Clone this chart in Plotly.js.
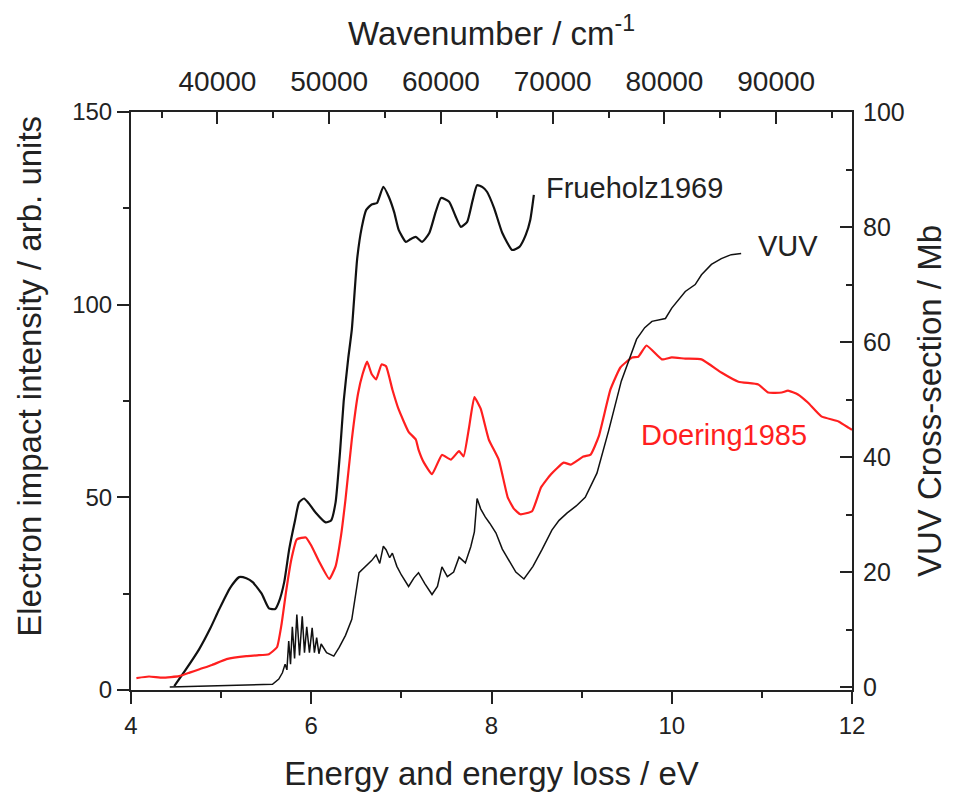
<!DOCTYPE html>
<html>
<head>
<meta charset="utf-8">
<script src="https://cdn.plot.ly/plotly-3.0.1.min.js"></script>
<style>html,body{margin:0;padding:0;background:#fff;}#chart{width:956px;height:794px;}</style>
</head>
<body>
<div id="chart"></div>
<script>
// Frueholz1969 electron impact (left axis)
const frueholzE = [4.48,4.6,4.757,4.88,4.98,5.1,5.2,5.28,5.35,5.45,5.53,5.6,5.64,5.7,5.755,5.82,5.865,5.92,5.97,6.05,6.16,6.22,6.27,6.32,6.36,6.41,6.45,6.51,6.56,6.61,6.67,6.73,6.80,6.86,6.92,6.97,7.05,7.10,7.16,7.23,7.31,7.38,7.44,7.53,7.60,7.66,7.73,7.79,7.84,7.90,7.95,8.03,8.12,8.23,8.31,8.38,8.43,8.47];
const frueholzI = [1,5,10.6,16,21,26.5,29.3,29,28,25,21.2,21,22.8,28,36.5,44,48.7,49.7,48.5,46,43.5,44,48.7,62,75,86,93.5,112,120,124.6,126,126.4,130.6,128,124,119.4,116.3,117,117.6,116.3,118.6,124,127.7,126.7,123,120.2,121.5,127,131,130.5,129.3,125,118.6,114.2,115,118.1,122,128.5];

// Doering1985 electron impact (left axis)
const doeringE = [4.06,4.2,4.35,4.535,4.65,4.76,4.9,5.06,5.28,5.4,5.53,5.62,5.67,5.72,5.78,5.84,5.94,6.0,6.09,6.2,6.27,6.33,6.38,6.45,6.52,6.57,6.62,6.67,6.72,6.78,6.83,6.9,6.97,7.08,7.16,7.19,7.25,7.34,7.45,7.55,7.64,7.69,7.75,7.81,7.88,7.97,8.08,8.18,8.25,8.32,8.45,8.55,8.66,8.80,8.88,9.02,9.10,9.19,9.32,9.43,9.56,9.63,9.72,9.89,10.0,10.15,10.33,10.55,10.74,10.96,11.07,11.22,11.29,11.40,11.51,11.66,11.85,11.96,12.0];
const doeringI = [3.1,3.5,3.2,3.6,4.5,5.4,6.5,8.0,8.8,9.0,9.3,11.1,17,25.4,34,39.1,39.6,37.5,33.2,28.8,32.1,40,49.5,65,77,82,85.2,82,80.6,84.5,84,78,72.8,67,65,62.4,59,56,61,59.8,62,60.6,68,76,73,65,59.8,50,47,45.6,46.4,52.6,56,59,58.5,60.6,61.1,65.8,78,83.7,86.3,86.5,89.4,85.8,86.3,86,85.8,82.4,80,79.3,77.2,77.2,77.7,76.7,74.6,71,69.7,68.1,67.5];

// VUV cross-section (right axis, Mb)
const vuvE = [4.43,4.8,5.2,5.57,5.64,5.68,5.71,5.73,5.75,5.77,5.79,5.815,5.84,5.87,5.90,5.925,5.95,5.98,6.01,6.035,6.06,6.085,6.11,6.17,6.25,6.31,6.38,6.45,6.53,6.6,6.67,6.72,6.76,6.80,6.83,6.87,6.90,6.95,7.0,7.08,7.14,7.19,7.26,7.34,7.40,7.45,7.51,7.58,7.64,7.71,7.77,7.81,7.84,7.88,7.93,7.98,8.05,8.12,8.19,8.27,8.36,8.46,8.56,8.67,8.75,8.84,8.94,9.04,9.17,9.30,9.44,9.52,9.61,9.70,9.78,9.93,10.0,10.15,10.26,10.33,10.44,10.55,10.66,10.77];
const vuvS = [0,0.2,0.35,0.5,1.4,2.5,4,3,8,4,10.5,5,12.6,5.5,12.3,6,10.5,6,10.3,6,8.6,5.8,7.5,6,5.4,6.9,9,11.8,19.9,21,22,23,21.5,24.5,23.9,22.5,23.3,21,19.5,17.5,19,19.9,18,16.1,17.5,20.9,19.2,20,22.6,21.6,24.4,27,32.8,31,29.6,28.5,26.8,24,22.1,20,18.8,21,23.9,27.3,29,30.3,31.5,33,37.2,44.6,53.2,56.5,60.5,62.5,63.6,64.1,65.9,68.8,70,71.7,73.5,74.5,75.2,75.4];

// Axis ranges / ticks
const eVRange = [4, 12];
const cmPerEV = 8065.54;
const wnRange = [eVRange[0]*cmPerEV, eVRange[1]*cmPerEV];
const labels = {frue: 'Frueholz1969', vuv: 'VUV', doer: 'Doering1985'};
const leftTitle = 'Electron impact intensity / arb. units';

const font = 'Liberation Sans, Arial, sans-serif';
const axCol = '#222';

const traces = [
  {x: frueholzE, y: frueholzI, type: 'scatter', mode: 'lines', line: {color: '#111', width: 2.2, shape: 'spline', smoothing: 0.5}, xaxis: 'x', yaxis: 'y', name: labels.frue, hoverinfo: 'skip'},
  {x: doeringE, y: doeringI, type: 'scatter', mode: 'lines', line: {color: '#ff1f1f', width: 2.2, shape: 'spline', smoothing: 0.4}, xaxis: 'x', yaxis: 'y', name: labels.doer, hoverinfo: 'skip'},
  {x: vuvE, y: vuvS, type: 'scatter', mode: 'lines', line: {color: '#111', width: 1.5}, xaxis: 'x', yaxis: 'y2', name: labels.vuv, hoverinfo: 'skip'},
  {x: wnRange, y: [null, null], type: 'scatter', mode: 'lines', xaxis: 'x2', yaxis: 'y', showlegend: false, hoverinfo: 'skip'}
];

const layout = {
  width: 956, height: 794,
  margin: {l: 131, r: 104, t: 112, b: 104, pad: 0},
  paper_bgcolor: '#fff', plot_bgcolor: '#fff',
  showlegend: false,
  font: {family: font, color: axCol},
  xaxis: {
    range: eVRange, dtick: 2, tick0: 0, showgrid: false, zeroline: false,
    showline: true, linecolor: axCol, linewidth: 2,
    ticks: 'outside', ticklen: 12, tickwidth: 2, tickcolor: axCol,
    minor: {dtick: 1, ticks: 'outside', ticklen: 6, tickwidth: 2, tickcolor: axCol},
    tickfont: {size: 24, family: font, color: axCol}, ticklabelstandoff: 1,
    title: {text: 'Energy and energy loss / eV', font: {size: 33, family: font, color: axCol}, standoff: 24}
  },
  xaxis2: {
    overlaying: 'x', side: 'top', anchor: 'y', range: wnRange,
    dtick: 10000, tick0: 0, tickformat: 'd', showgrid: false, zeroline: false,
    showline: true, linecolor: axCol, linewidth: 2,
    ticks: 'inside', ticklen: 12, tickwidth: 2, tickcolor: axCol,
    minor: {dtick: 5000, ticks: 'inside', ticklen: 6, tickwidth: 2, tickcolor: axCol},
    tickfont: {size: 28, family: font, color: axCol}, ticklabelstandoff: 8,
    title: {text: 'Wavenumber / cm<sup>-1</sup>', font: {size: 33, family: font, color: axCol}, standoff: 10}
  },
  yaxis: {
    range: [0, 150], dtick: 50, tick0: 0, showgrid: false, zeroline: false,
    showline: true, linecolor: axCol, linewidth: 2,
    ticks: 'outside', ticklen: 12, tickwidth: 2, tickcolor: axCol,
    minor: {dtick: 25, ticks: 'outside', ticklen: 6, tickwidth: 2, tickcolor: axCol},
    tickfont: {size: 24, family: font, color: axCol}, ticklabelstandoff: 0
  },
  yaxis2: {
    overlaying: 'y', side: 'right', anchor: 'x', range: [-0.5, 100],
    dtick: 20, tick0: 0, showgrid: false, zeroline: false,
    showline: true, linecolor: axCol, linewidth: 2,
    ticks: 'inside', ticklen: 12, tickwidth: 2, tickcolor: axCol,
    minor: {dtick: 10, ticks: 'inside', ticklen: 6, tickwidth: 2, tickcolor: axCol},
    tickfont: {size: 25, family: font, color: axCol}, ticklabelstandoff: 4,
    title: {text: 'VUV Cross-section / Mb', font: {size: 33, family: font, color: axCol}, standoff: 14}
  },
  annotations: [
    {text: leftTitle, x: -0.14, y: 0.542, xref: 'paper', yref: 'paper', xanchor: 'center', yanchor: 'middle', textangle: -90, showarrow: false, font: {size: 33, family: font, color: axCol}},
    {text: labels.frue, x: 8.58, y: 130.3, xref: 'x', yref: 'y', xanchor: 'left', yanchor: 'middle', showarrow: false, font: {size: 29, family: font, color: axCol}},
    {text: labels.vuv, x: 10.93, y: 115.3, xref: 'x', yref: 'y', xanchor: 'left', yanchor: 'middle', showarrow: false, font: {size: 29, family: font, color: axCol}},
    {text: labels.doer, x: 9.64, y: 66.3, xref: 'x', yref: 'y', xanchor: 'left', yanchor: 'middle', showarrow: false, font: {size: 29, family: font, color: '#ff1f1f'}}
  ]
};

Plotly.newPlot('chart', traces, layout, {displayModeBar: false, staticPlot: true});
</script>
</body>
</html>
